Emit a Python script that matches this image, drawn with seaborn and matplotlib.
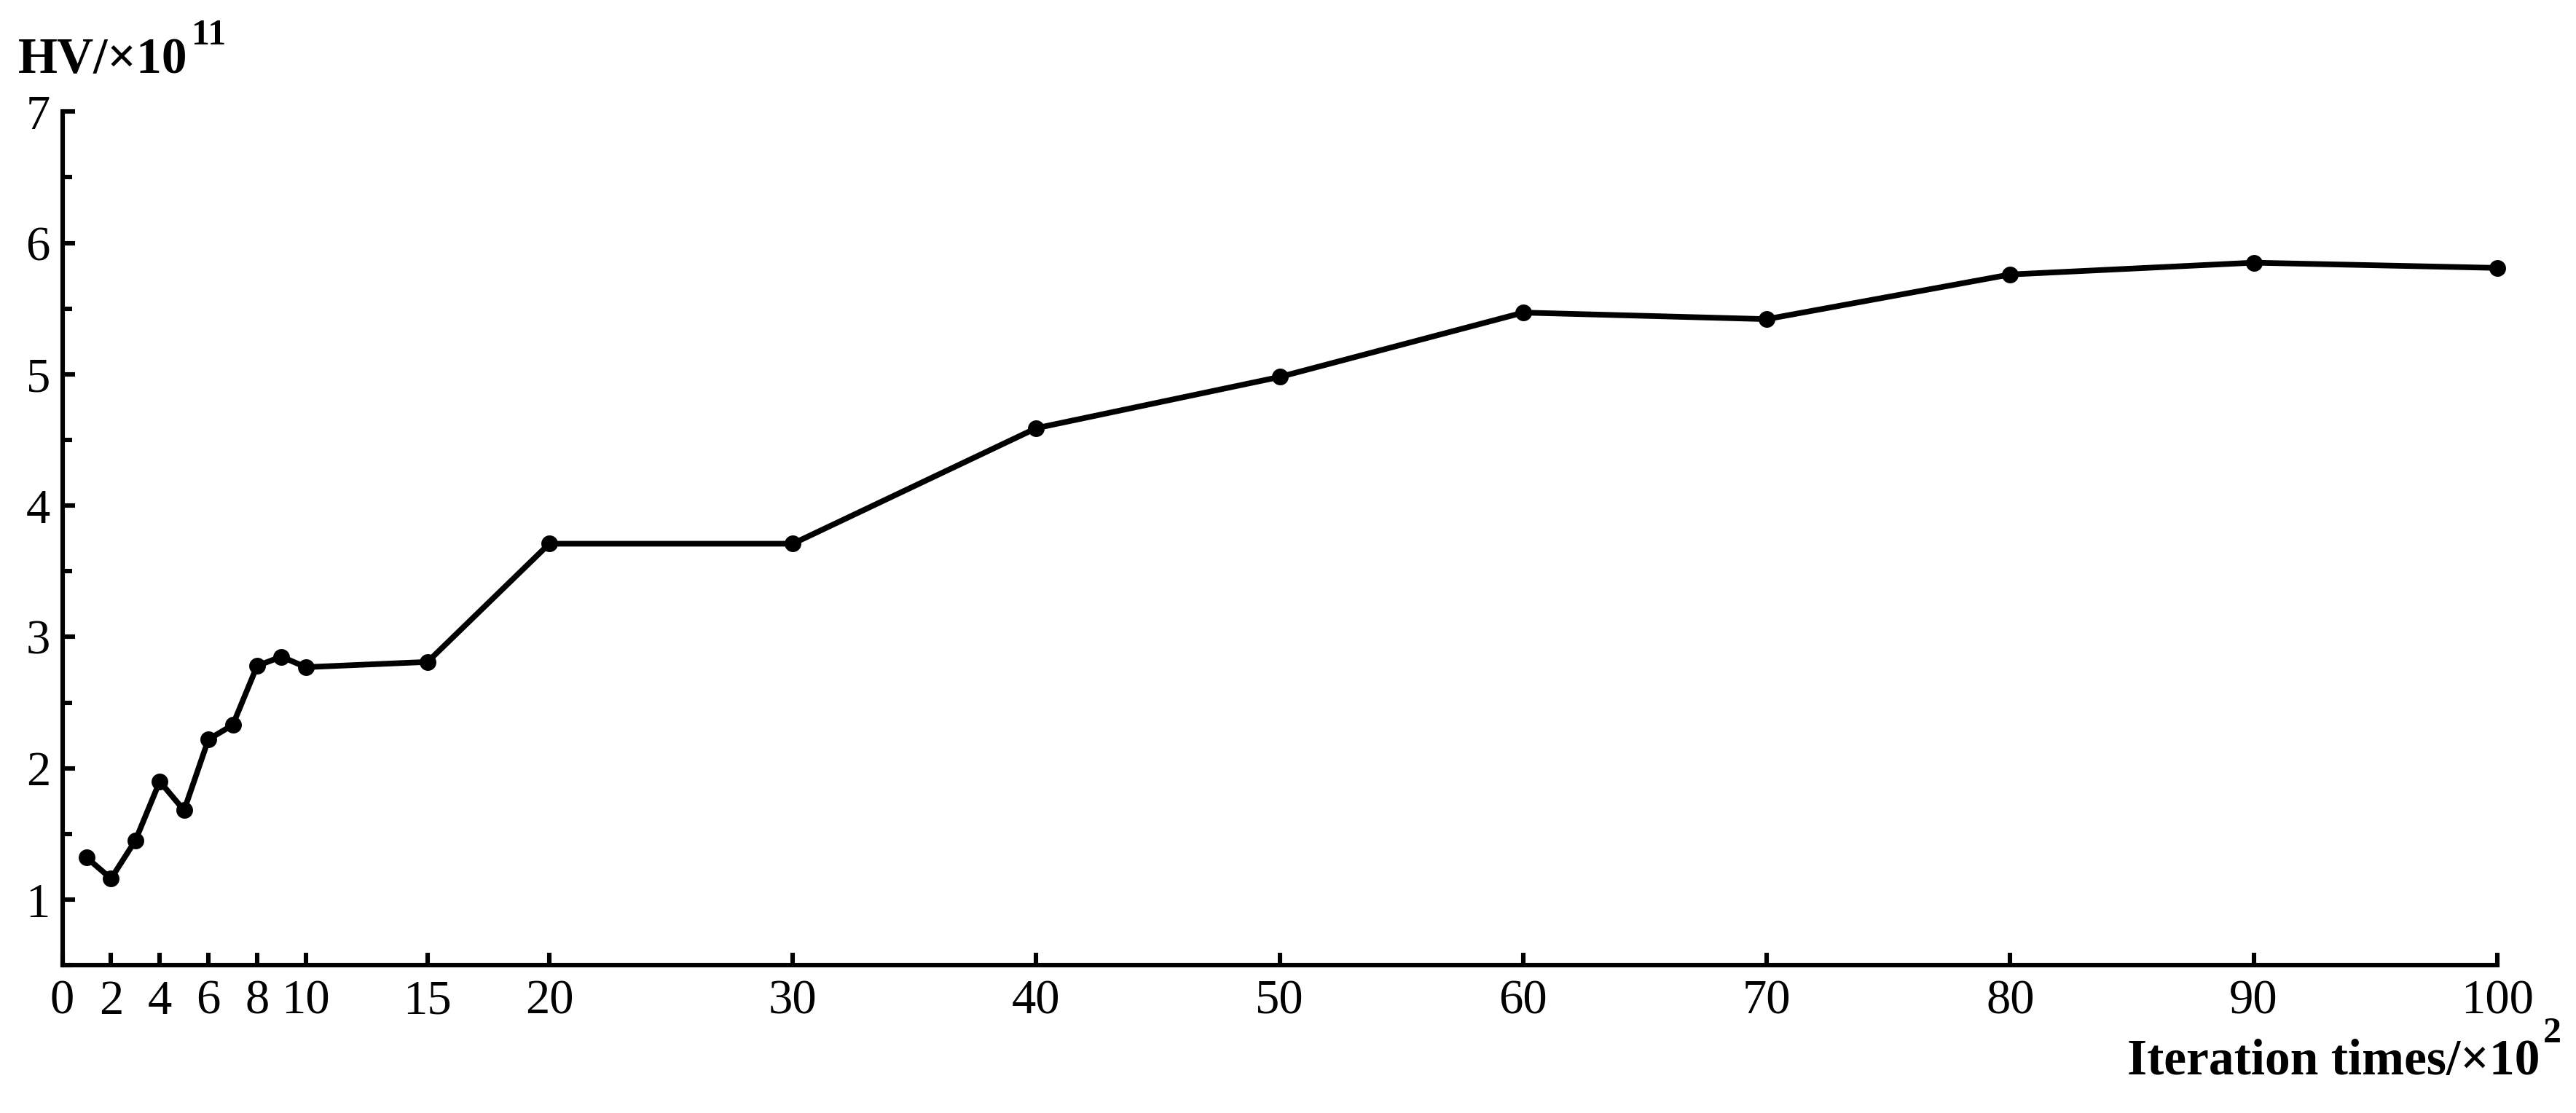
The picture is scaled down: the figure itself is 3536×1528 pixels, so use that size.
import matplotlib
matplotlib.use("Agg")
import matplotlib.pyplot as plt
import seaborn as sns
import pandas as pd
from matplotlib.ticker import MultipleLocator

iterations = [1, 2, 3, 4, 5, 6, 7, 8, 9, 10, 15, 20, 30, 40, 50, 60, 70, 80, 90, 100]
hv_values = [1.32, 1.16, 1.45, 1.90, 1.68, 2.22, 2.33, 2.78, 2.85, 2.77,
             2.81, 3.71, 3.71, 4.59, 4.98, 5.47, 5.42, 5.76, 5.85, 5.81]
x_ticks = [0, 2, 4, 6, 8, 10, 15, 20, 30, 40, 50, 60, 70, 80, 90, 100]
y_ticks = [1, 2, 3, 4, 5, 6, 7]

sns.set_theme(style="ticks")
plt.rcParams['font.family'] = ['Liberation Serif', 'DejaVu Serif']
plt.rcParams['text.color'] = 'black'

df = pd.DataFrame({"iter": iterations, "hv": hv_values})

DPI = 200
fig = plt.figure(figsize=(17.68, 7.64), dpi=DPI)
ax = fig.add_axes([0.0242, 0.1327, 0.9452, 0.767])
sns.lineplot(data=df, x="iter", y="hv", ax=ax, color="black", linewidth=2.8,
             marker="o", markersize=7.5, markeredgecolor="black", markerfacecolor="black",
             clip_on=False)

ax.set_xlim(0, 100)
ax.set_ylim(0.5, 7)
ax.set_xticks(x_ticks)
ax.set_xticklabels([str(t) for t in x_ticks])
ax.set_yticks(y_ticks)
ax.yaxis.set_minor_locator(MultipleLocator(0.5))
ax.set_xlabel("")
ax.set_ylabel("")

for s in ["top", "right"]:
    ax.spines[s].set_visible(False)
for s in ["left", "bottom"]:
    ax.spines[s].set_linewidth(2.2)
    ax.spines[s].set_color("black")

ax.tick_params(axis="both", which="major", direction="in", length=6, width=2.2,
               labelsize=24, colors="black", labelcolor="black")
ax.tick_params(axis="y", which="minor", direction="in", length=4.5, width=2.2, colors="black")
ax.tick_params(axis="x", which="minor", length=0)
ax.tick_params(axis="x", which="major", pad=7)
ax.tick_params(axis="y", which="major", pad=6)

LABEL_FS = 25
SUP_FS = 18
renderer = fig.canvas.get_renderer()
W, H = fig.get_size_inches() * DPI
cap_frac = (LABEL_FS * 0.66 * DPI / 72.0) / H  # cap height in figure fraction

# y label: "HV/×10" + superscript 11
base_y = 0.9346
t1 = fig.text(0.0071, base_y, "HV/×10", fontsize=LABEL_FS, fontweight="bold",
              ha="left", va="baseline", color="black")
bb = t1.get_window_extent(renderer)
fig.text(bb.x1 / W + 0.0015, base_y + cap_frac * 0.85, "11", fontsize=SUP_FS,
         fontweight="bold", ha="left", va="baseline", color="black")

# x label: "Iteration times/×10" + superscript 2, right aligned
base_x = 0.0347
s2 = fig.text(0.9943, base_x + cap_frac * 0.95, "2", fontsize=SUP_FS, fontweight="bold",
              ha="right", va="baseline", color="black")
bb2 = s2.get_window_extent(renderer)
fig.text(bb2.x0 / W - 0.0012, base_x, "Iteration times/×10", fontsize=LABEL_FS,
         fontweight="bold", ha="right", va="baseline", color="black")

fig.savefig("out.png", dpi=DPI, facecolor="white")
